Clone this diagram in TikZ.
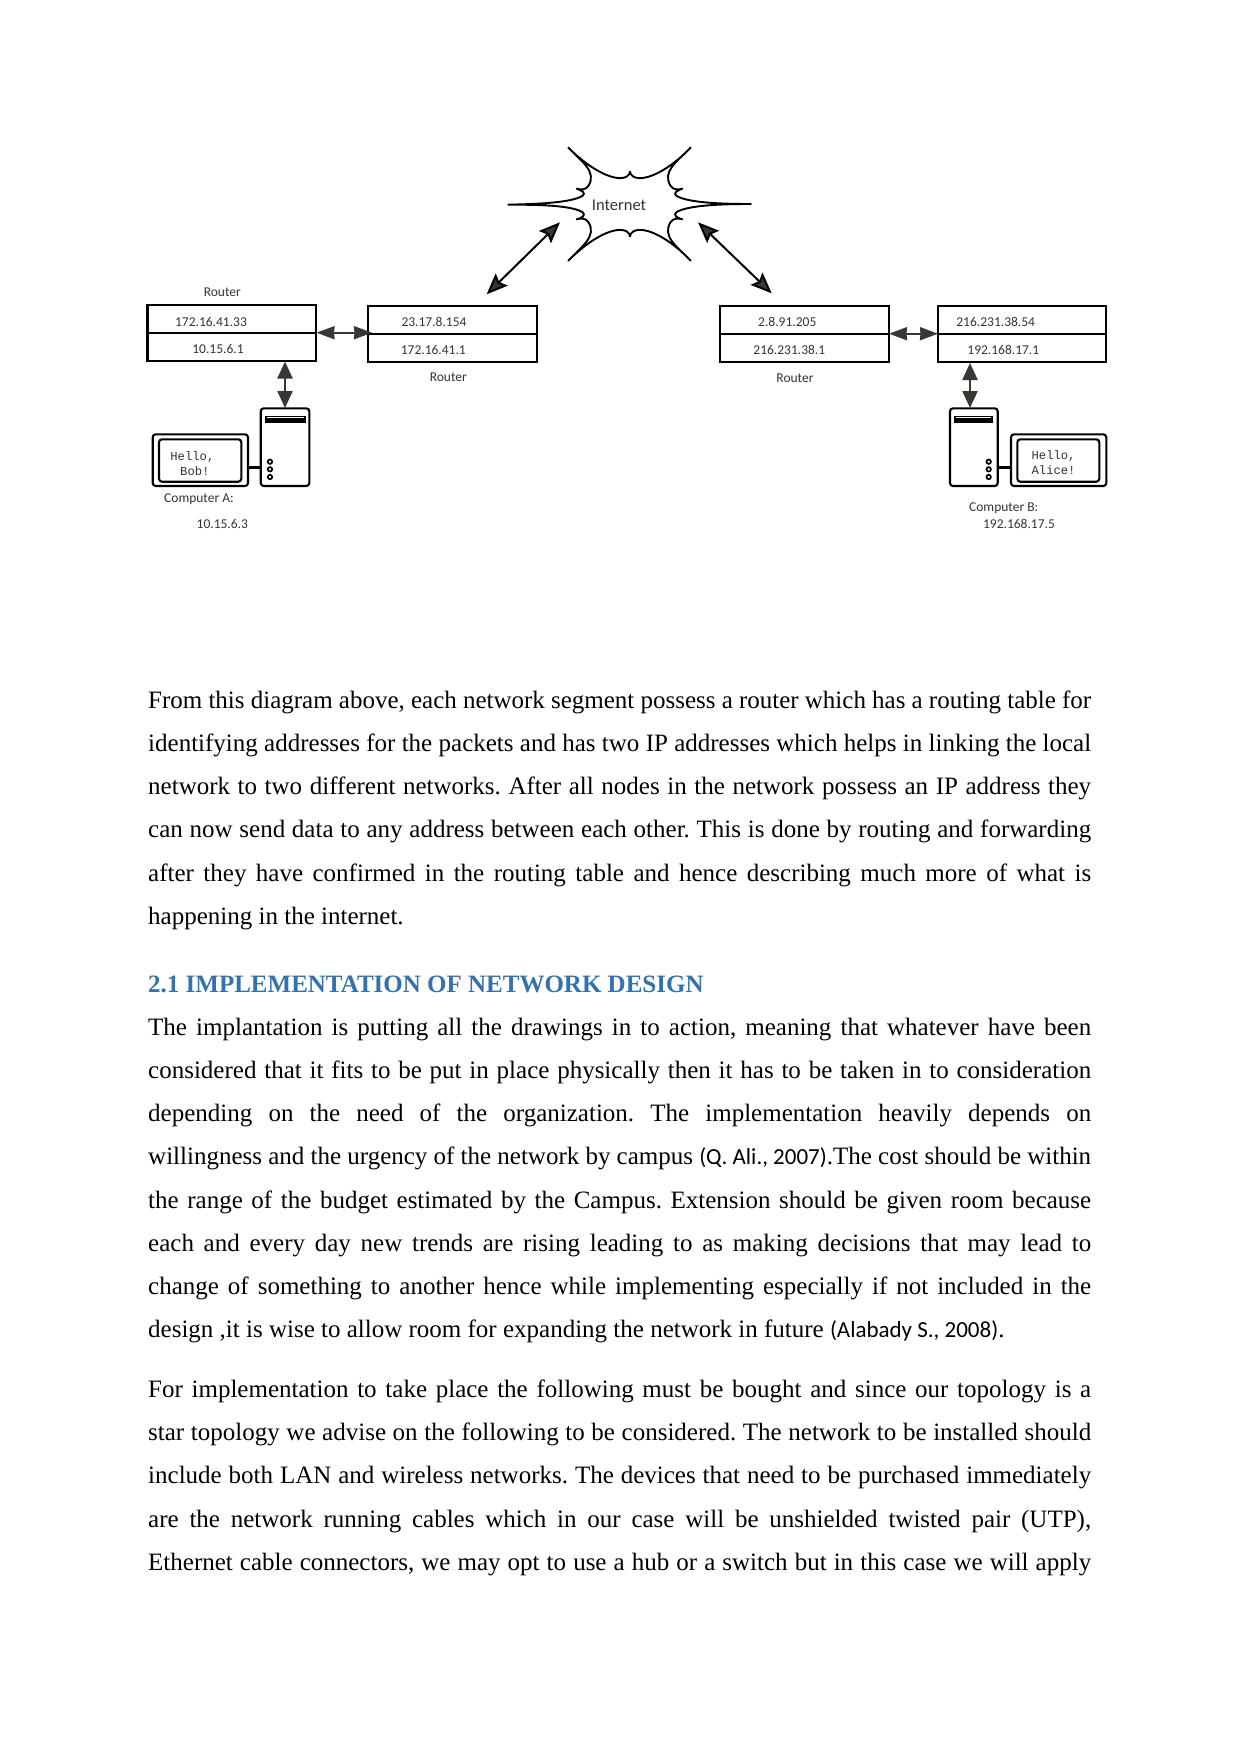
\documentclass[tikz,border=0pt]{standalone}
\usepackage{fontspec}
\setmainfont{Liberation Serif}
\newfontfamily\carl{Carlito}
\newfontfamily\lmono{Liberation Mono}
\usetikzlibrary{arrows.meta}
\definecolor{ink}{HTML}{3A3632}
\definecolor{txt}{HTML}{333333}
\definecolor{head}{HTML}{3372AD}
\frenchspacing
\tikzset{
  x=1pt,y=-1pt,
  cell/.style={draw=black,line width=2.1pt,minimum width=#1,minimum height=28pt,inner sep=0pt,outer sep=0pt},
  lab/.style={anchor=base,inner sep=0pt,text=txt,font=\carl\fontsize{13.5}{16}\selectfont},
  mono/.style={anchor=base west,inner sep=0pt,text=txt,font=\lmono\fontsize{12.2}{14}\selectfont},
  body/.style={anchor=base west,inner sep=0pt,font=\fontsize{25}{30}\selectfont},
  link/.style={draw=ink,line width=2.2pt,{Stealth[length=18pt,width=13pt,inset=0.5pt,fill=ink]}-{Stealth[length=18pt,width=13pt,inset=0.5pt,fill=ink]}},
  vlink/.style={draw=ink,line width=2.4pt,{Stealth[length=17pt,width=15pt,inset=0pt,fill=ink]}-{Stealth[length=17pt,width=15pt,inset=0pt,fill=ink]}},
  dlink/.style={draw=black,line width=2pt,{Stealth[length=21pt,width=17pt,inset=3.5pt,fill=ink]}-{Stealth[length=21pt,width=17pt,inset=3.5pt,fill=ink]}},
  case/.style={draw=black,line width=2.1pt,rounded corners=3pt,fill=white},
  plug/.style={draw=black,line width=2.8pt},
  led/.style={draw=black,line width=1.7pt,fill=white},
}
\newcommand{\jl}[1]{\makebox[943pt][s]{#1}}
\newcommand{\refcite}[1]{{\carl\fontsize{23}{28}\selectfont #1}}
\begin{document}
\begin{tikzpicture}
\useasboundingbox (0,0) rectangle (1241,1754);
% cloud
\begin{scope}[shift={(480,130)},scale=1/3,x=1pt,y=-1pt]
\draw[black,line width=1.9pt,line join=round]
 (265,53) .. controls (330,118) and (405,158) .. (440,140) .. controls (447,136) and (449,130) .. (450,125)
 .. controls (451,130) and (453,136) .. (460,140) .. controls (495,158) and (570,118) .. (632,53)
 .. controls (590,95) and (545,125) .. (572,168) .. controls (580,180) and (595,180) .. (607,176)
 .. controls (590,182) and (578,190) .. (590,198) .. controls (625,218) and (720,222) .. (813,222)
 .. controls (720,222) and (625,226) .. (590,246) .. controls (578,254) and (590,264) .. (607,268)
 .. controls (595,264) and (580,264) .. (572,276) .. controls (545,319) and (590,349) .. (632,392)
 .. controls (570,326) and (495,286) .. (460,304) .. controls (453,308) and (451,314) .. (450,319)
 .. controls (449,314) and (447,308) .. (440,304) .. controls (405,286) and (330,326) .. (265,392)
 .. controls (305,349) and (352,319) .. (325,276) .. controls (317,264) and (302,264) .. (290,268)
 .. controls (307,264) and (319,254) .. (307,246) .. controls (272,226) and (177,224) .. (85,224)
 .. controls (177,222) and (272,218) .. (307,198) .. controls (319,190) and (307,182) .. (290,176)
 .. controls (302,180) and (317,180) .. (325,168) .. controls (352,125) and (305,95) .. (265,53) -- cycle;
\end{scope}
\node[anchor=base,inner sep=0pt,text=txt,font=\carl\fontsize{16.5}{20}\selectfont] (inet) at (619,210) {Internet};
\coordinate (dl1) at (560,222.3);
\coordinate (dl2) at (486.7,294.3);
\coordinate (dr1) at (698,222.3);
\coordinate (dr2) at (771.7,293.3);
\draw[dlink] (dl1) -- (dl2);
\draw[dlink] (dr1) -- (dr2);
% routers
\node[cell=168.5pt] (r1t) at (231.75,318.7) {};
\node[cell=168.5pt] (r1b) at (231.75,346.7) {};
\node[cell=169.3pt] (r2t) at (452.35,319.7) {};
\node[cell=169.3pt] (r2b) at (452.35,347.7) {};
\node[cell=169.3pt] (r3t) at (804.65,319.7) {};
\node[cell=169.3pt] (r3b) at (804.65,347.7) {};
\node[cell=168.6pt] (r4t) at (1022,319.7) {};
\node[cell=168.6pt] (r4b) at (1022,347.7) {};
\node[lab] (l0) at (222.3,296) {Router};
\node[lab] (l1) at (211,326.3) {172.16.41.33};
\node[lab] (l2) at (218,353.6) {10.15.6.1};
\node[lab] (l3) at (434,326.3) {23.17.8.154};
\node[lab] (l4) at (433.3,354.6) {172.16.41.1};
\node[lab] (l5) at (448.3,381) {Router};
\node[lab] (l6) at (787.3,326.3) {2.8.91.205};
\node[lab] (l7) at (789.3,354.6) {216.231.38.1};
\node[lab] (l8) at (795,382) {Router};
\node[lab] (l9) at (995.7,326.3) {216.231.38.54};
\node[lab] (l10) at (1003.3,354.6) {192.168.17.1};
\node[lab] (l11) at (199,502) {Computer A:};
\node[lab] (l12) at (222.3,528.6) {10.15.6.3};
\node[lab] (l13) at (1003.7,511) {Computer B:};
\node[lab] (l14) at (1019,528.6) {192.168.17.5};
% router links
\coordinate (a1) at (316.5,332.7);
\coordinate (a2) at (372,332.7);
\coordinate (b1) at (889,333.7);
\coordinate (b2) at (938,333.7);
\draw[link] (a1) -- (a2);
\draw[link] (b1) -- (b2);
% computer A
\node[case,minimum width=48.6pt,minimum height=77.7pt,inner sep=0pt] (ta) at (285,447.15) {};
\draw[fill=black,draw=black,line width=.5pt] (265,416) rectangle (305,421.9);
\draw[white,line width=.7pt] (266.5,417.2) -- (303.5,417.2);
\foreach \y in {461.7,469.3,477} \draw[led] (270,\y) circle (2.2pt);
\node[case,minimum width=95.3pt,minimum height=51.7pt,inner sep=0pt] (ma) at (200.35,460.15) {};
\node[case,minimum width=82.3pt,minimum height=42.4pt,inner sep=0pt] (sa) at (200.15,460.5) {};
\draw[plug] (ma.east |- 0,467.3) -- (ta.west |- 0,467.3);
\node[mono] (ha1) at (170.2,460) {Hello,};
\node[mono] (ha2) at (180,475) {Bob!};
\coordinate (va1) at (285,361.5);
\coordinate (va2) at (285,408);
\draw[vlink] (va1) -- (va2);
% computer B
\node[case,minimum width=47.7pt,minimum height=77.7pt,inner sep=0pt] (tb) at (973.85,447.15) {};
\draw[fill=black,draw=black,line width=.5pt] (954.3,416) rectangle (992.7,421.9);
\draw[white,line width=.7pt] (955.8,417.2) -- (991.2,417.2);
\foreach \y in {461.7,469.3,477} \draw[led] (988.7,\y) circle (2.2pt);
\node[case,minimum width=95.3pt,minimum height=51.7pt,inner sep=0pt] (mb) at (1058.65,460.15) {};
\node[case,minimum width=82pt,minimum height=42.4pt,inner sep=0pt] (sb) at (1058.3,460.5) {};
\draw[plug] (tb.east |- 0,467.3) -- (mb.west |- 0,467.3);
\node[mono] (hb1) at (1031.4,459) {Hello,};
\node[mono] (hb2) at (1031.4,474) {Alice!};
\coordinate (vb1) at (970,363);
\coordinate (vb2) at (970,408);
\draw[vlink] (vb1) -- (vb2);
% body text
\node[body] (p1) at (148,708.5) {\jl{From this diagram above, each network segment possess a router which has a routing table for}};
\node[body] (p2) at (148,751.6) {\jl{identifying addresses for the packets and has two IP addresses which helps in linking the local}};
\node[body] (p3) at (148,794.6) {\jl{network to two different networks. After all nodes in the network possess an IP address they}};
\node[body] (p4) at (148,837.6) {\jl{can now send data to any address between each other. This is done by routing and forwarding}};
\node[body] (p5) at (148,881.4) {\jl{after they have confirmed in the routing table and hence describing much more of what is}};
\node[body] (p6) at (148,924.3) {happening in the internet.};
\node[anchor=base west,inner sep=0pt,text=head,font=\bfseries\fontsize{25}{30}\selectfont] (h1) at (148,992.6) {2.1 IMPLEMENTATION OF NETWORK DESIGN};
\node[body] (q1) at (148,1035) {\jl{The implantation is putting all the drawings in to action, meaning that whatever have been}};
\node[body] (q2) at (148,1078) {\jl{considered that it fits to be put in place physically then it has to be taken in to consideration}};
\node[body] (q3) at (148,1121) {\jl{depending on the need of the organization. The implementation heavily depends on}};
\node[body] (q4) at (148,1164) {\jl{willingness and the urgency of the network by campus \refcite{(Q. Ali., 2007)}.The cost should be within}};
\node[body] (q5) at (148,1208) {\jl{the range of the budget estimated by the Campus. Extension should be given room because}};
\node[body] (q6) at (148,1251) {\jl{each and every day new trends are rising leading to as making decisions that may lead to}};
\node[body] (q7) at (148,1294) {\jl{change of something to another hence while implementing especially if not included in the}};
\node[body] (q8) at (148,1337) {design ,it is wise to allow room for expanding the network in future \refcite{(Alabady S., 2008)}.};
\node[body] (s1) at (148,1397) {\jl{For implementation to take place the following must be bought and since our topology is a}};
\node[body] (s2) at (148,1440) {\jl{star topology we advise on the following to be considered. The network to be installed should}};
\node[body] (s3) at (148,1483) {\jl{include both LAN and wireless networks. The devices that need to be purchased immediately}};
\node[body] (s4) at (148,1527) {\jl{are the network running cables which in our case will be unshielded twisted pair (UTP),}};
\node[body] (s5) at (148,1570) {\jl{Ethernet cable connectors, we may opt to use a hub or a switch but in this case we will apply}};
\end{tikzpicture}
\end{document}
